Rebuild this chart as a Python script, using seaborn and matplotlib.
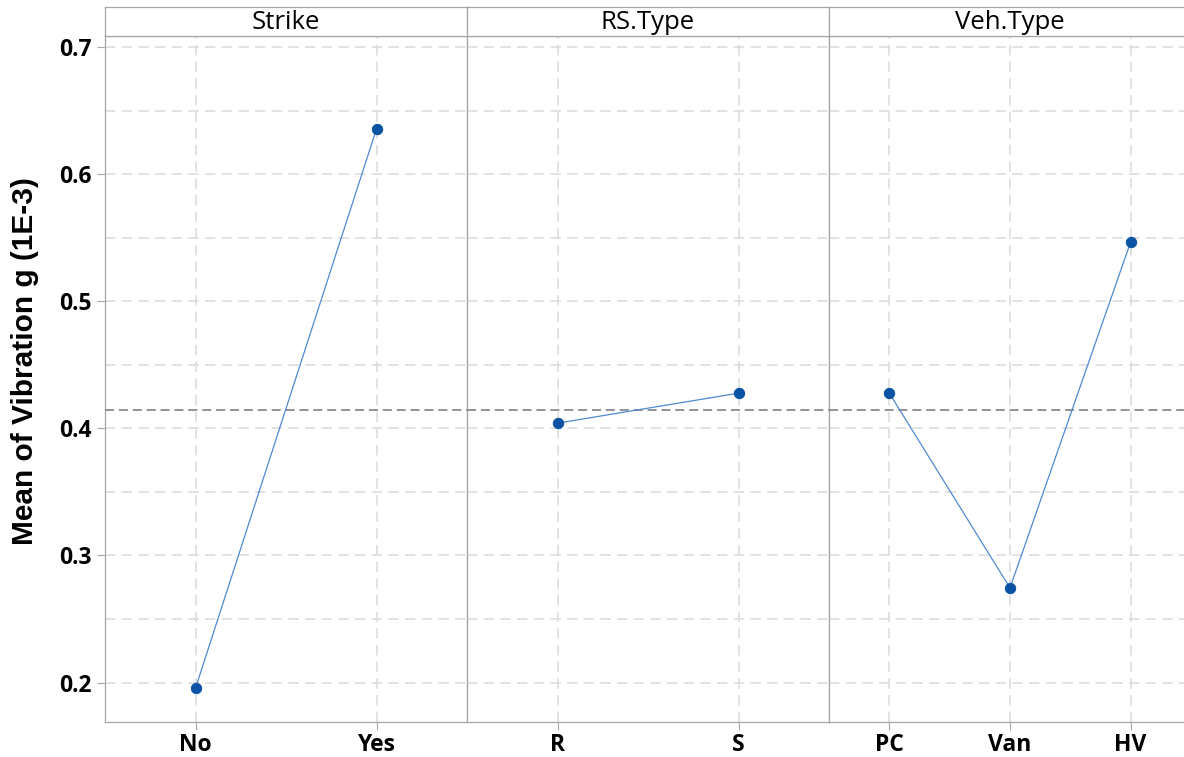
import matplotlib
matplotlib.use("Agg")
import matplotlib.pyplot as plt
import seaborn as sns
import pandas as pd
import numpy as np

# Factor levels and mean responses (main effects)
factors = ["Strike", "RS.Type", "Veh.Type"]
strike_levels = ["No", "Yes"]
strike_means = [0.1956, 0.6356]
rs_levels = ["R", "S"]
rs_means = [0.4041, 0.4277]
veh_levels = ["PC", "Van", "HV"]
veh_means = [0.4277, 0.2745, 0.5467]
grand_mean = 0.4148

y_ticks = [0.2, 0.3, 0.4, 0.5, 0.6, 0.7]
y_label = "Mean of Vibration g (1E-3)"

levels_by_factor = [strike_levels, rs_levels, veh_levels]
means_by_factor = [strike_means, rs_means, veh_means]

df = pd.concat(
    [pd.DataFrame({"factor": f, "level": lv, "mean": mv})
     for f, lv, mv in zip(factors, levels_by_factor, means_by_factor)],
    ignore_index=True,
)

sns.set_theme(style="white")
plt.rcParams["font.family"] = ["Open Sans", "DejaVu Sans"]
plt.rcParams["lines.scale_dashes"] = False
plt.rcParams["text.color"] = "black"
plt.rcParams["xtick.labelcolor"] = "black"
plt.rcParams["ytick.labelcolor"] = "black"

W, H = 1184, 757
fig = plt.figure(figsize=(W / 100, H / 100), dpi=100)

frame_col = "#a6a6a6"
grid_col = "#dadada"
line_col = "#4f8ad0"
dot_col = "#0a52a3"
mean_col = "#8a8a8a"

left_px = 105.0
panel_w = 362.0
ax_top_px, ax_bot_px = 36.0, 722.0
strip_top_px = 7.0

for i, (fac, lv) in enumerate(zip(factors, levels_by_factor)):
    x0 = (left_px + i * panel_w) / W
    ax = fig.add_axes([x0, (H - ax_bot_px) / H, panel_w / W, (ax_bot_px - ax_top_px) / H])
    sub = df[df["factor"] == fac]
    sns.pointplot(data=sub, x="level", y="mean", order=lv, color=dot_col,
                  markers="o", linestyles="-", errorbar=None, ax=ax,
                  markersize=7.5, linewidth=0.9)
    for ln in ax.lines:
        ln.set_color(line_col)
        ln.set_markerfacecolor(dot_col)
        ln.set_markeredgecolor(dot_col)
        ln.set_zorder(5)

    ax.set_xlim(-0.5, len(lv) - 0.5)
    ax.set_ylim(0.169, 0.7087)

    # dashed grid: categories vertically, 0.05 steps horizontally
    for k in range(len(lv)):
        ax.axvline(k, color=grid_col, lw=1.1, ls=(0, (7.5, 4.5)), zorder=0)
    for yv in np.arange(0.2, 0.701, 0.05):
        ax.axhline(yv, color=grid_col, lw=1.1, ls=(0, (7.5, 4.5)), zorder=0)

    ax.axhline(grand_mean, color=mean_col, lw=1.3, ls=(0, (6.5, 3.5)), zorder=3)

    ax.set_xlabel("")
    ax.set_ylabel("")
    ax.set_yticks(y_ticks)
    ax.tick_params(axis="x", length=6, width=0.8, color=frame_col, pad=1.8,
                   labelsize=16.5, bottom=True, labelcolor="black")
    for t in ax.get_xticklabels():
        t.set_fontweight("bold")
    if i == 0:
        ax.tick_params(axis="y", length=6, width=0.8, color=frame_col, pad=3.4,
                       labelsize=16.5, left=True, labelcolor="black")
        ax.set_yticklabels([f"{v:.1f}" for v in y_ticks], fontweight="bold")
    else:
        ax.tick_params(axis="y", left=False, labelleft=False)

    for side in ["left", "right", "top", "bottom"]:
        ax.spines[side].set_color(frame_col)
        ax.spines[side].set_linewidth(0.9)
        ax.spines[side].set_visible(True)

    # factor header strip
    sax = fig.add_axes([x0, (H - ax_top_px) / H, panel_w / W, (ax_top_px - strip_top_px) / H])
    sax.set_xticks([])
    sax.set_yticks([])
    for side in ["left", "right", "top", "bottom"]:
        sax.spines[side].set_color(frame_col)
        sax.spines[side].set_linewidth(0.9)
    sax.text(0.5, 0.45, fac, ha="center", va="center", fontsize=18.5,
             transform=sax.transAxes, color="black")

fig.text(25 / W, (H - 361) / H, y_label, rotation=90, ha="center", va="center",
         fontsize=21.5, fontweight="bold", family=["Liberation Sans", "DejaVu Sans"],
         color="black")

fig.savefig("out.png", dpi=100, facecolor="white")
